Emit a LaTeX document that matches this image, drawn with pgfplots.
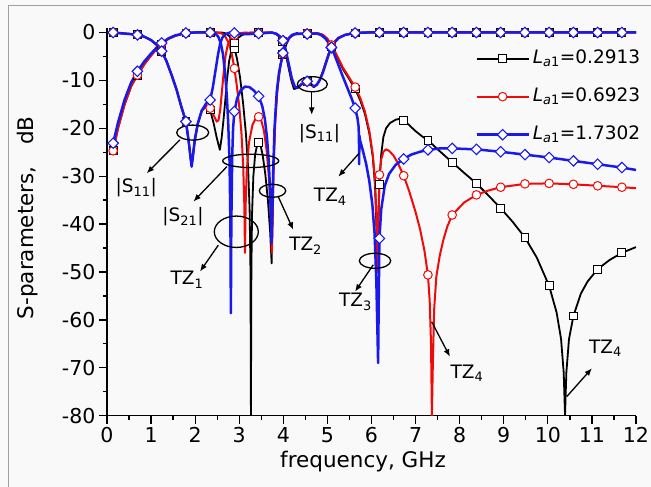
\documentclass[border=0pt]{standalone}
\usepackage{fontspec}
\setmainfont{DejaVu Sans}
\usepackage{pgfplots}
\pgfplotsset{compat=1.18}
\usetikzlibrary{arrows.meta}
\definecolor{myred}{RGB}{240,10,10}
\definecolor{myblue}{RGB}{25,25,235}
\definecolor{bgc}{RGB}{249,249,249}
\definecolor{framec}{RGB}{160,160,160}
\newcommand{\annfont}{\fontsize{18.5bp}{22bp}\selectfont}
\pgfplotsset{
 kline/.style={black, line width=1.8bp, line join=round, no marks, forget plot},
 rline/.style={myred, line width=2.0bp, line join=round, no marks, forget plot},
 bline/.style={myblue, line width=2.5bp, line join=round, no marks, forget plot},
 kmark/.style={black, only marks, mark=square*, mark size=3.9bp, mark options={draw=black, fill=white, line width=1bp, solid}, forget plot},
 rmark/.style={myred, only marks, mark=*, mark size=4.3bp, mark options={draw=myred, fill=white, line width=1bp, solid}, forget plot},
 bmark/.style={myblue, only marks, mark=square*, mark size=3.7bp, mark options={draw=myblue, fill=white, line width=1.1bp, rotate=45, solid}, forget plot},
}
\begin{document}
\begin{tikzpicture}
\fill[bgc] (0bp,0bp) rectangle (651bp,487bp);
\path[use as bounding box] (0bp,0bp) rectangle (651bp,487bp);
\draw[framec, line width=1.5bp] (8.3bp,-2bp) -- (8.3bp,481.5bp) -- (653bp,481.5bp);
\begin{axis}[
  at={(107bp,71.3bp)}, anchor=south west,
  scale only axis, width=529bp, height=388bp,
  xmin=0, xmax=12, ymin=-80, ymax=1,
  axis x line*=bottom, axis y line*=left,
  axis line style={line width=1.4bp},
  tick align=outside,
  major tick length=8bp, minor tick length=4.5bp,
  every tick/.style={black, line width=1.3bp},
  xtick={0,1,...,12}, minor x tick num=1,
  ytick={-80,-70,...,0}, minor y tick num=1,
  tick label style={font=\fontsize{20.5bp}{24bp}\selectfont},
  /pgf/number format/assume math mode=true,
  xlabel={frequency, GHz},
  ylabel={S-parameters,\quad dB},
  label style={font=\fontsize{21.5bp}{25bp}\selectfont},
  xlabel style={at={(axis description cs:0.484,-0.119)}, anchor=center},
  ylabel style={at={(axis description cs:-0.151,0.51)}, anchor=center},
  legend style={draw=none, fill=none, at={(0.696,0.951)}, anchor=north west,
    font=\annfont, row sep=14.5bp, inner sep=0pt, cells={anchor=west},
    nodes={inner sep=3bp, text height=13.5bp, text depth=4bp}},
  legend image code/.code={\draw[mark repeat=2,mark phase=2] plot coordinates {(0bp,0bp) (26bp,0bp) (52bp,0bp)};},
]
% ---------- black, La1=0.2913 ----------
\addplot[kline] coordinates {(0.14,-24.7)(0.25,-20)(0.4,-15)(0.55,-11.2)(0.69,-8.9)(0.85,-6.6)(1.0,-4.8)(1.12,-3.5)(1.24,-2.4)(1.4,-1.3)(1.55,-0.7)(1.79,-0.1)(2.0,0)(2.34,0)(2.6,0)(2.7,-0.2)(2.78,-0.8)(2.84,-1.8)(2.89,-3.3)(2.95,-5.5)(3.02,-9.5)(3.09,-15)(3.15,-21)(3.2,-28)(3.235,-37)(3.255,-50)(3.265,-80)(3.275,-50)(3.29,-38)(3.32,-30)(3.36,-25.5)(3.41,-23.3)(3.44,-23)(3.48,-23.5)(3.53,-25.5)(3.59,-29.5)(3.65,-35)(3.7,-41.5)(3.735,-48.2)(3.755,-38)(3.775,-28)(3.815,-18)(3.865,-11.6)(3.925,-7.2)(3.99,-4.6)(4.06,-2.6)(4.14,-1.1)(4.25,-0.4)(4.54,-0.2)(4.8,-0.2)(4.9,-0.5)(5.0,-1.4)(5.09,-2.8)(5.2,-4.7)(5.35,-7.6)(5.5,-9.8)(5.63,-11.8)(5.75,-14.3)(5.85,-17)(5.95,-21)(6.03,-26)(6.08,-32)(6.11,-40)(6.13,-48)(6.15,-42)(6.165,-37)(6.18,-31.8)(6.22,-25.5)(6.27,-21.8)(6.33,-20)(6.42,-18.9)(6.55,-18.2)(6.65,-18.0)(6.73,-18.3)(6.85,-19.3)(7.0,-20.6)(7.15,-21.7)(7.28,-22.5)(7.55,-24.8)(7.83,-27.1)(8.1,-29.3)(8.38,-31.5)(8.65,-34)(8.93,-36.7)(9.2,-39.5)(9.48,-42.8)(9.75,-47)(10.03,-52.9)(10.2,-58.5)(10.3,-64)(10.36,-71)(10.39,-80)(10.42,-71)(10.48,-64)(10.58,-59.2)(10.75,-54.5)(10.9,-52)(11.13,-49.4)(11.4,-47.5)(11.68,-46)(12.0,-44.8)};
\addplot[kmark] coordinates {(0.14,-24.7)(0.69,-8.9)(1.24,-2.4)(1.79,-0.1)(2.34,0)(2.89,-3.3)(3.44,-23)(3.99,-4.6)(4.54,-0.2)(5.09,-2.8)(5.63,-11.8)(6.18,-31.8)(6.73,-18.3)(7.28,-22.5)(7.83,-27.1)(8.38,-31.5)(8.93,-36.7)(9.48,-42.8)(10.03,-52.9)(10.58,-59.2)(11.13,-49.4)(11.68,-46)};
\addplot[kline] coordinates {(0.14,0)(0.3,-0.15)(0.5,-0.3)(0.69,-0.5)(0.85,-0.9)(1.0,-1.6)(1.12,-2.5)(1.24,-3.9)(1.35,-6)(1.47,-9)(1.58,-12)(1.68,-15.3)(1.79,-18.6)(1.85,-22.5)(1.9,-26.5)(1.92,-27.5)(1.94,-26.5)(1.99,-22.5)(2.06,-19)(2.15,-16.3)(2.25,-15.5)(2.34,-16.2)(2.42,-19)(2.49,-22)(2.56,-24.5)(2.6,-22)(2.64,-18.5)(2.68,-14.5)(2.72,-10)(2.77,-6)(2.83,-3.3)(2.89,-2.2)(2.95,-1.3)(3.05,-0.6)(3.15,-0.2)(3.265,0)(3.4,-0.05)(3.74,0)(3.84,-0.35)(3.92,-1)(3.99,-1.9)(4.04,-3.8)(4.11,-7)(4.18,-10)(4.24,-11.8)(4.32,-11.6)(4.42,-10.8)(4.54,-10.3)(4.62,-10.8)(4.69,-11.4)(4.76,-10.9)(4.83,-9.8)(4.9,-8.1)(4.98,-5.8)(5.05,-3.9)(5.09,-3.0)(5.15,-2.1)(5.25,-1.1)(5.4,-0.5)(5.63,-0.1)(5.9,0)(12,0)};
\addplot[kmark] coordinates {(0.14,0)(0.69,-0.5)(1.24,-3.9)(1.79,-18.6)(2.34,-16.2)(2.89,-2.2)(3.44,-0.05)(3.99,-1.9)(4.54,-10.3)(5.09,-3.0)(5.63,-0.1)(6.18,0)(6.73,0)(7.28,0)(7.83,0)(8.38,0)(8.93,0)(9.48,0)(10.03,0)(10.58,0)(11.13,0)(11.68,0)};
% ---------- red, La1=0.6923 ----------
\addplot[rline] coordinates {(0.14,-24.7)(0.25,-20)(0.4,-15)(0.55,-11.2)(0.69,-8.9)(0.85,-6.6)(1.0,-4.8)(1.12,-3.5)(1.24,-2.4)(1.4,-1.3)(1.55,-0.7)(1.79,-0.1)(2.0,0)(2.34,0)(2.5,0)(2.6,-0.2)(2.68,-0.8)(2.75,-2)(2.82,-4)(2.89,-7.5)(2.95,-11.5)(3.0,-15.5)(3.05,-21)(3.09,-28)(3.115,-36)(3.13,-46)(3.145,-36)(3.17,-29)(3.22,-23)(3.3,-19.3)(3.38,-17.8)(3.44,-17.6)(3.5,-18.4)(3.56,-20.5)(3.62,-24.5)(3.67,-30)(3.71,-37)(3.74,-46)(3.76,-38)(3.78,-28)(3.82,-18)(3.87,-11.5)(3.93,-7)(3.99,-4.5)(4.06,-2.5)(4.14,-1.1)(4.25,-0.4)(4.54,-0.2)(4.8,-0.2)(4.9,-0.5)(5.0,-1.3)(5.09,-2.6)(5.2,-4.5)(5.35,-7.3)(5.5,-9.5)(5.63,-11.4)(5.75,-13.8)(5.85,-16.5)(5.95,-20.5)(6.03,-25.5)(6.08,-31)(6.11,-38)(6.135,-50)(6.155,-40)(6.18,-29.7)(6.22,-26.5)(6.27,-24.9)(6.33,-24.4)(6.4,-24.7)(6.5,-25.7)(6.6,-27.3)(6.73,-29.9)(6.85,-33)(7.0,-37.5)(7.1,-41)(7.2,-45.5)(7.28,-50.6)(7.32,-56)(7.35,-65)(7.37,-80)(7.39,-70)(7.42,-58)(7.47,-51)(7.55,-46.5)(7.63,-43.3)(7.72,-40.5)(7.83,-38.1)(8.1,-35.5)(8.38,-33.9)(8.65,-33)(8.93,-32.3)(9.48,-31.6)(10.03,-31.5)(10.58,-31.7)(11.13,-32.0)(11.68,-32.3)(12.0,-32.5)};
\addplot[rmark] coordinates {(0.14,-24.7)(0.69,-8.9)(1.24,-2.4)(1.79,-0.1)(2.34,0)(2.89,-7.5)(3.44,-17.6)(3.99,-4.5)(4.54,-0.2)(5.09,-2.6)(5.63,-11.4)(6.18,-29.7)(6.73,-29.9)(7.28,-50.6)(7.83,-38.1)(8.38,-33.9)(8.93,-32.3)(9.48,-31.6)(10.03,-31.5)(10.58,-31.7)(11.13,-32.0)(11.68,-32.3)};
\addplot[rline] coordinates {(0.14,0)(0.3,-0.15)(0.5,-0.3)(0.69,-0.5)(0.85,-0.9)(1.0,-1.6)(1.12,-2.5)(1.24,-3.9)(1.35,-6)(1.47,-9)(1.58,-12)(1.68,-15.3)(1.79,-18.6)(1.85,-22.5)(1.9,-26.5)(1.92,-27.5)(1.94,-26.5)(1.99,-22.5)(2.06,-19)(2.15,-16.3)(2.25,-15.3)(2.34,-15.8)(2.42,-17.3)(2.49,-18.6)(2.53,-18.3)(2.57,-16)(2.61,-12)(2.65,-8)(2.69,-4.8)(2.74,-2.6)(2.8,-1.3)(2.89,-0.6)(3.0,-0.2)(3.13,0)(3.25,-0.1)(3.44,-0.1)(3.6,-0.05)(3.74,0)(3.85,-0.3)(3.93,-0.9)(3.99,-1.7)(4.05,-3.6)(4.12,-6.7)(4.19,-9.7)(4.26,-11.4)(4.33,-11.5)(4.42,-10.8)(4.54,-10.3)(4.62,-10.8)(4.69,-11.3)(4.76,-10.9)(4.83,-9.8)(4.9,-8.1)(4.98,-5.8)(5.05,-3.9)(5.09,-3.0)(5.15,-2.1)(5.25,-1.1)(5.4,-0.5)(5.63,-0.1)(5.9,0)(12,0)};
\addplot[rmark] coordinates {(0.14,0)(0.69,-0.5)(1.24,-3.9)(1.79,-18.6)(2.34,-15.8)(2.89,-0.6)(3.44,-0.1)(3.99,-1.7)(4.54,-10.3)(5.09,-3.0)(5.63,-0.1)(6.18,0)(6.73,0)(7.28,0)(7.83,0)(8.38,0)(8.93,0)(9.48,0)(10.03,0)(10.58,0)(11.13,0)(11.68,0)};
% ---------- blue, La1=1.7302 ----------
\addplot[bline] coordinates {(0.14,-23.1)(0.25,-18.8)(0.4,-14.0)(0.55,-10.4)(0.69,-8.1)(0.85,-6.0)(1.0,-4.4)(1.12,-3.2)(1.24,-2.2)(1.4,-1.2)(1.55,-0.6)(1.79,-0.1)(2.0,0)(2.34,0)(2.45,-0.2)(2.52,-0.8)(2.58,-2.2)(2.63,-4.5)(2.68,-8.5)(2.72,-13.5)(2.75,-19)(2.78,-27)(2.80,-40)(2.81,-58.6)(2.82,-40)(2.84,-26)(2.86,-20)(2.89,-16.5)(2.95,-13.8)(3.03,-12.1)(3.13,-11.3)(3.23,-11.4)(3.33,-12.1)(3.44,-13.3)(3.52,-15.3)(3.58,-18)(3.63,-22)(3.67,-27)(3.70,-33)(3.72,-39)(3.735,-44)(3.75,-38)(3.77,-29)(3.80,-20)(3.85,-12.5)(3.90,-8.5)(3.99,-4.3)(4.05,-2.5)(4.12,-1.2)(4.2,-0.5)(4.3,-0.2)(4.54,-0.3)(4.75,-0.2)(4.85,-0.5)(4.95,-1.2)(5.03,-2.2)(5.09,-3.2)(5.15,-4.4)(5.25,-6.8)(5.35,-9.2)(5.45,-11.5)(5.55,-13.8)(5.63,-15.8)(5.68,-17.8)(5.705,-19.5)(5.715,-21.5)(5.72,-27.5)(5.725,-21.5)(5.74,-22.5)(5.8,-24.5)(5.88,-27.5)(5.95,-31)(6.02,-36)(6.07,-42)(6.11,-52)(6.15,-69)(6.165,-55)(6.18,-43)(6.22,-37)(6.3,-32)(6.4,-29.5)(6.55,-27.6)(6.73,-26.4)(6.9,-25.5)(7.1,-24.9)(7.28,-24.5)(7.55,-24.2)(7.83,-24.2)(8.1,-24.3)(8.38,-24.4)(8.93,-24.9)(9.48,-25.5)(10.03,-26.1)(10.58,-26.8)(11.13,-27.5)(11.68,-28.2)(12.0,-28.7)};
\addplot[bmark] coordinates {(0.14,-23.1)(0.69,-8.1)(1.24,-2.2)(1.79,-0.1)(2.34,0)(2.89,-16.5)(3.44,-13.3)(3.99,-4.3)(4.54,-0.3)(5.09,-3.2)(5.63,-15.8)(6.18,-43)(6.73,-26.4)(7.28,-24.5)(7.83,-24.2)(8.38,-24.4)(8.93,-24.9)(9.48,-25.5)(10.03,-26.1)(10.58,-26.8)(11.13,-27.5)(11.68,-28.2)};
\addplot[bline] coordinates {(0.14,0)(0.3,-0.15)(0.5,-0.3)(0.69,-0.5)(0.85,-0.9)(1.0,-1.6)(1.12,-2.5)(1.24,-3.9)(1.35,-6)(1.47,-9)(1.58,-12)(1.68,-15.3)(1.79,-18.6)(1.85,-22.5)(1.9,-26.5)(1.92,-28)(1.94,-26.5)(1.99,-22.5)(2.06,-19)(2.15,-16.3)(2.25,-14.8)(2.34,-14.1)(2.40,-11.5)(2.46,-8)(2.52,-4.5)(2.57,-2.2)(2.62,-1)(2.7,-0.3)(2.8,0)(2.89,-0.1)(3.0,-0.3)(3.13,-0.35)(3.3,-0.3)(3.44,-0.2)(3.6,-0.1)(3.74,0)(3.85,-0.3)(3.93,-0.9)(3.99,-1.7)(4.05,-3.5)(4.12,-6.5)(4.19,-9.5)(4.26,-11.3)(4.33,-11.5)(4.42,-10.7)(4.54,-10.2)(4.62,-10.7)(4.69,-11.3)(4.76,-10.9)(4.83,-9.9)(4.9,-8.3)(4.98,-6)(5.05,-4)(5.09,-3.1)(5.15,-2.2)(5.25,-1.2)(5.4,-0.5)(5.63,-0.1)(5.9,0)(12,0)};
\addplot[bmark] coordinates {(0.14,0)(0.69,-0.5)(1.24,-3.9)(1.79,-18.6)(2.34,-14.1)(2.89,-0.1)(3.44,-0.2)(3.99,-1.7)(4.54,-10.2)(5.09,-3.1)(5.63,-0.1)(6.18,0)(6.73,0)(7.28,0)(7.83,0)(8.38,0)(8.93,0)(9.48,0)(10.03,0)(10.58,0)(11.13,0)(11.68,0)};
% ---------- legend ----------
\addlegendimage{black, line width=1.8bp, mark=square*, mark size=3.9bp, mark options={fill=white, line width=1bp}}
\addlegendentry{\textit{L}\textsubscript{\textit{a}1}=0.2913}
\addlegendimage{myred, line width=2.0bp, mark=*, mark size=4.3bp, mark options={fill=white, line width=1bp}}
\addlegendentry{\textit{L}\textsubscript{\textit{a}1}=0.6923}
\addlegendimage{myblue, line width=2.5bp, mark=square*, mark size=3.7bp, mark options={fill=white, line width=1.1bp, rotate=45}}
\addlegendentry{\textit{L}\textsubscript{\textit{a}1}=1.7302}
% ---------- annotations ----------
\begin{scope}[line width=1.3bp, every node/.style={anchor=base west, inner sep=0pt, font=\annfont}]
\draw (axis cs:1.944,-20.9) ellipse [x radius=16bp, y radius=7.5bp];
\draw[-{Latex[length=7.5bp,width=6bp]}] (axis cs:1.656,-22.4) -- (axis cs:0.90,-29.4);
\node at (axis cs:0.18,-33.5) {|S\textsubscript{11}|};
\draw (axis cs:3.26,-26.8) ellipse [x radius=28bp, y radius=6.7bp];
\draw[-{Latex[length=7.5bp,width=6bp]}] (axis cs:2.72,-28.0) -- (axis cs:1.96,-35.3);
\node at (axis cs:1.24,-39.5) {|S\textsubscript{21}|};
\draw (axis cs:2.933,-41.6) ellipse [x radius=22bp, y radius=15.7bp];
\draw[-{Latex[length=7.5bp,width=6bp]}] (axis cs:2.525,-44.4) -- (axis cs:2.11,-49.9);
\node at (axis cs:1.43,-52.7) {TZ\textsubscript{1}};
\draw (axis cs:3.755,-33.05) ellipse [x radius=13.2bp, y radius=6.5bp];
\draw[-{Latex[length=7.5bp,width=6bp]}] (axis cs:3.886,-34.3) -- (axis cs:4.226,-41.2);
\node at (axis cs:4.12,-45.6) {TZ\textsubscript{2}};
\draw (axis cs:4.658,-10.8) ellipse [x radius=15bp, y radius=7.5bp];
\draw[-{Latex[length=7.5bp,width=6bp]}] (axis cs:4.644,-12.4) -- (axis cs:4.644,-17.2);
\node at (axis cs:4.34,-22.1) {|S\textsubscript{11}|};
\draw[-{Latex[length=7.5bp,width=6bp]}] (axis cs:5.72,-25.2) -- (axis cs:5.247,-30.1);
\node at (axis cs:4.68,-35.3) {TZ\textsubscript{4}};
\draw (axis cs:6.08,-47.66) ellipse [x radius=15.7bp, y radius=7.5bp];
\draw[-{Latex[length=7.5bp,width=6bp]}] (axis cs:6.04,-48.5) -- (axis cs:5.626,-54.1);
\node at (axis cs:5.25,-57.2) {TZ\textsubscript{3}};
\draw[-{Latex[length=7.5bp,width=6bp]}] (axis cs:7.366,-60.4) -- (axis cs:7.78,-67.7);
\node at (axis cs:7.78,-72.2) {TZ\textsubscript{4}};
\draw[-{Latex[length=7.5bp,width=6bp]}] (axis cs:10.43,-76.0) -- (axis cs:11.0,-70.1);
\node at (axis cs:10.92,-67.0) {TZ\textsubscript{4}};
\end{scope}
\end{axis}
\end{tikzpicture}
\end{document}
